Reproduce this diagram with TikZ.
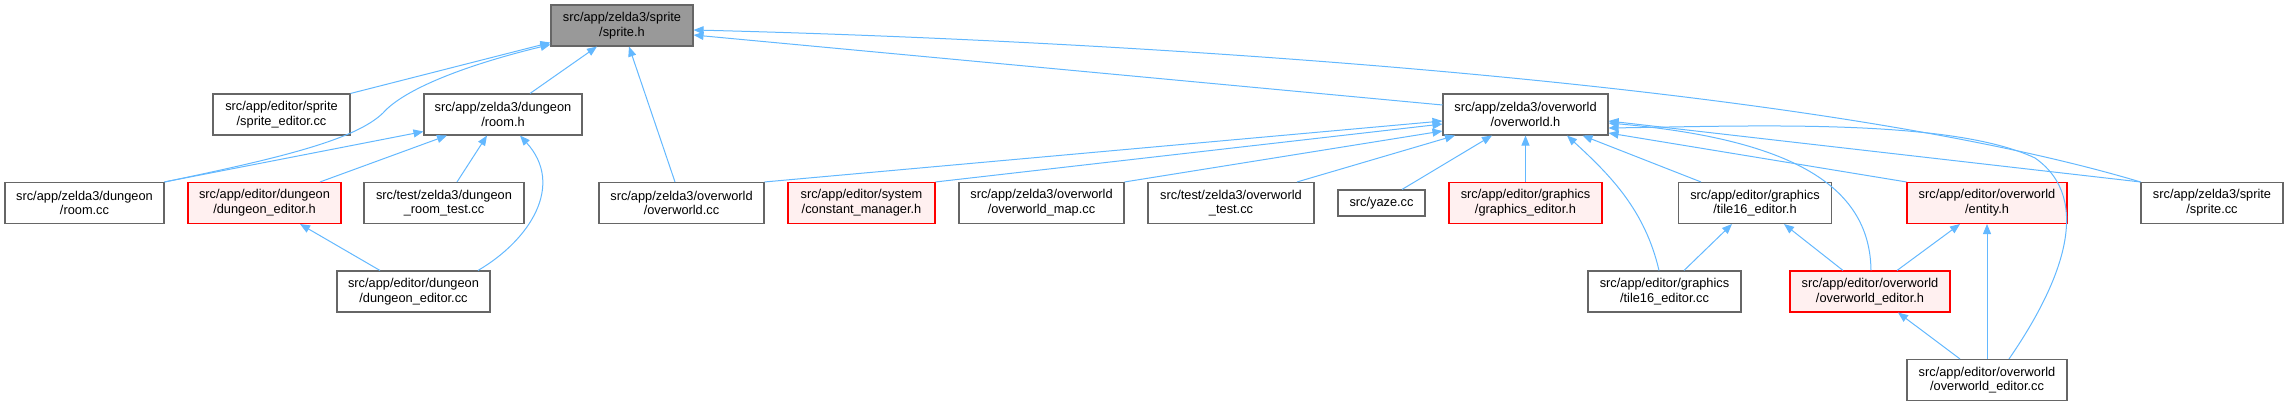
\documentclass[tikz,border=0pt]{standalone}
\usepackage{fontspec}
\setmainfont{Liberation Sans}
\usetikzlibrary{arrows.meta,calc}
\definecolor{bleuF}{HTML}{63B8FF}
\definecolor{grisB}{HTML}{666666}
\definecolor{grisF}{HTML}{999999}
\definecolor{rougeP}{HTML}{FFF0F0}
\tikzset{
  fich/.style={rectangle, draw=grisB, fill=white, line width=0.8pt, align=center,
               font=\fontsize{9.6}{11}\selectfont, inner sep=1pt,
               minimum height=30.75pt, minimum width=#1*0.75pt},
  fichrouge/.style={fich=#1, draw=red, fill=rougeP},
  fichgris/.style={fich=#1, fill=grisF},
  fl/.style={-{Triangle[length=7.5pt,width=6pt]}, line width=0.75pt, draw=bleuF},
}

\begin{document}
\begin{tikzpicture}[x=0.75pt, y=-0.75pt]
  \useasboundingbox (0,0) rectangle (2289,406);
  % rangée 1 et 2
  \node[fichgris=142] (spriteh) at (622,25.5) {src/app/zelda3/sprite\\/sprite.h};
  \node[fich=137] (spriteeditorcc) at (281.5,114.5) {src/app/editor/sprite\\/sprite\_editor.cc};
  \node[fich=158] (roomh) at (503,114.5) {src/app/zelda3/dungeon\\/room.h};
  \node[fich=165] (overworldh) at (1525.5,114.5) {src/app/zelda3/overworld\\/overworld.h};
  % rangée 3
  \node[fich=159] (roomcc) at (84.5,203) {src/app/zelda3/dungeon\\/room.cc};
  \node[fichrouge=153] (dungeoneditorh) at (264.5,203) {src/app/editor/dungeon\\/dungeon\_editor.h};
  \node[fich=160] (roomtestcc) at (444,203) {src/test/zelda3/dungeon\\\_room\_test.cc};
  \node[fich=165] (overworldcc) at (681.5,203) {src/app/zelda3/overworld\\/overworld.cc};
  \node[fichrouge=147] (constantmanagerh) at (861.5,203) {src/app/editor/system\\/constant\_manager.h};
  \node[fich=165] (overworldmapcc) at (1041.5,203) {src/app/zelda3/overworld\\/overworld\_map.cc};
  \node[fich=166] (overworldtestcc) at (1231,203) {src/test/zelda3/overworld\\\_test.cc};
  \node[fich=87, minimum height=19.5pt] (yazecc) at (1381.5,203) {src/yaze.cc};
  \node[fichrouge=153] (graphicseditorh) at (1525.5,203) {src/app/editor/graphics\\/graphics\_editor.h};
  \node[fich=153] (tile16editorh) at (1755,203) {src/app/editor/graphics\\/tile16\_editor.h};
  \node[fichrouge=160] (entityh) at (1987,203) {src/app/editor/overworld\\/entity.h};
  \node[fich=142] (spritecc) at (2212,203) {src/app/zelda3/sprite\\/sprite.cc};
  % rangée 4 et 5
  \node[fich=153] (dungeoneditorcc) at (413.5,291.5) {src/app/editor/dungeon\\/dungeon\_editor.cc};
  \node[fich=153] (tile16editorcc) at (1664.5,291.5) {src/app/editor/graphics\\/tile16\_editor.cc};
  \node[fichrouge=160] (overworldeditorh) at (1870,291.5) {src/app/editor/overworld\\/overworld\_editor.h};
  \node[fich=160] (overworldeditorcc) at (1987,380) {src/app/editor/overworld\\/overworld\_editor.cc};

  % vers sprite.h
  \draw[fl] (spriteeditorcc.north east) -- ($(spriteh.south west)+(0,-4)$);
  \draw[fl] (roomcc.north east) .. controls (280,158) and (355,140) .. (383,113)
            .. controls (405,88) and (470,64) .. ($(spriteh.south west)+(0,-2)$);
  \draw[fl] ($(roomh.north)+(27,0)$) -- ($(spriteh.south)+(-25,0)$);
  \draw[fl] ($(overworldcc.north)+(-6.5,0)$) -- ($(spriteh.south)+(7,0)$);
  \draw[fl] ($(overworldh.west)+(0,-9.5)$) -- ($(spriteh.east)+(0,9.5)$);
  \draw[fl] (spritecc.north west) .. controls (1800,80) and (1100,40) .. ($(spriteh.east)+(0,4.5)$);
  % vers room.h
  \draw[fl] (roomcc.north east) -- ($(roomh.south west)+(0,-4)$);
  \draw[fl] ($(dungeoneditorh.north)+(55.5,0)$) -- ($(roomh.south)+(-56,0)$);
  \draw[fl] ($(roomtestcc.north)+(13,0)$) -- ($(roomh.south)+(-16,0)$);
  \draw[fl] ($(dungeoneditorcc.north)+(64.5,0)$) .. controls (530,240) and (565,185) .. ($(roomh.south)+(17,0)$);
  \draw[fl] ($(dungeoneditorcc.north)+(-33.5,0)$) -- ($(dungeoneditorh.south)+(35.5,0)$);
  % vers overworld.h
  \draw[fl] (overworldcc.north east) -- ($(overworldh.west)+(0,6.5)$);
  \draw[fl] (constantmanagerh.north east) -- ($(overworldh.west)+(0,9.5)$);
  \draw[fl] (overworldmapcc.north east) -- ($(overworldh.west)+(0,16.5)$);
  \draw[fl] ($(overworldtestcc.north)+(66,0)$) -- ($(overworldh.south)+(-70.5,0)$);
  \draw[fl] ($(yazecc.north)+(20.5,0)$) -- ($(overworldh.south)+(-33.5,0)$);
  \draw[fl] (graphicseditorh) -- (overworldh);
  \draw[fl] ($(tile16editorcc.north)+(-5.5,0)$) .. controls (1645,210) and (1610,175) .. ($(overworldh.south)+(41.5,0)$);
  \draw[fl] ($(tile16editorh.north)+(-54,0)$) -- ($(overworldh.south)+(57,0)$);
  \draw[fl] ($(overworldeditorh.north)+(1,0)$) .. controls (1870,190) and (1800,140) .. ($(overworldh.east)+(0,8.5)$);
  \draw[fl] (entityh.north west) -- ($(overworldh.east)+(0,18.5)$);
  \draw[fl] (spritecc.north west) -- ($(overworldh.east)+(0,6.5)$);
  \draw[fl] ($(overworldeditorcc.north)+(22,0)$) .. controls (2060,285) and (2095,200) .. (2035,158)
            .. controls (1950,118) and (1750,126) .. ($(overworldh.east)+(0,13.5)$);
  % éditeurs
  \draw[fl] ($(tile16editorcc.north)+(19.5,0)$) -- ($(tile16editorh.south)+(-23,0)$);
  \draw[fl] ($(overworldeditorh.north)+(-27,0)$) -- ($(tile16editorh.south)+(29,0)$);
  \draw[fl] ($(overworldeditorh.north)+(27,0)$) -- ($(entityh.south)+(-27,0)$);
  \draw[fl] (overworldeditorcc) -- (entityh);
  \draw[fl] ($(overworldeditorcc.north)+(-27,0)$) -- ($(overworldeditorh.south)+(28,0)$);
\end{tikzpicture}
\end{document}
